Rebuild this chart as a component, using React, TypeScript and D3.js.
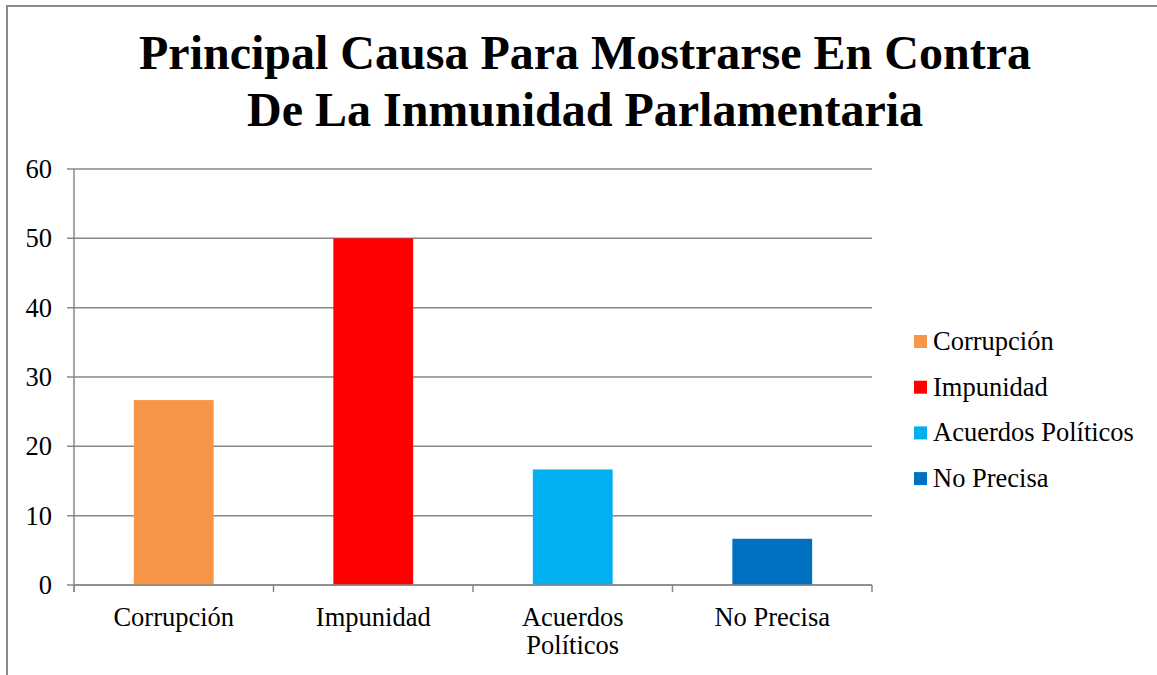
import React from "react";
import * as d3 from "d3";

const categories = ["Corrupción", "Impunidad", "Acuerdos Políticos", "No Precisa"];
const values = [26.67, 50, 16.67, 6.67];
const colors = ["#F79646", "#FF0000", "#00B0F0", "#0070C0"];
const yTicks = [0, 10, 20, 30, 40, 50, 60];
const titleLines = ["Principal Causa Para Mostrarse En Contra", "De La Inmunidad Parlamentaria"];
const categoryLabelLines = [["Corrupción"], ["Impunidad"], ["Acuerdos", "Políticos"], ["No Precisa"]];

const W = 1157;
const H = 675;
const plot = { left: 74, right: 872, top: 169, bottom: 585 };
const font = "'Liberation Serif', 'Times New Roman', serif";
const gridColor = "#888888";
const labelSize = 26.5;

export default function App() {
  const x = d3.scaleBand<string>().domain(categories).range([plot.left, plot.right]).paddingInner(0.6).paddingOuter(0.3);
  const xb = d3.scaleBand<string>().domain(categories).range([plot.left, plot.right]);
  const y = d3.scaleLinear().domain([0, 60]).range([plot.bottom, plot.top]);
  const boundaries = [plot.left, ...categories.map((c) => (xb(c) as number) + xb.bandwidth())];

  return (
    <svg width={W} height={H} style={{ position: "absolute", left: 0, top: 0, background: "#fff" }} fontFamily={font}>
      <rect x={7} y={6} width={W + 10} height={H + 10} fill="#fff" stroke="#898989" strokeWidth={2} />
      {titleLines.map((t, i) => (
        <text key={i} x={585} y={69 + i * 57} textAnchor="middle" fontSize={48} fontWeight="bold" fill="#000">
          {t}
        </text>
      ))}
      {yTicks.map((t) => (
        <g key={t}>
          <line x1={plot.left - 7} x2={plot.right} y1={y(t)} y2={y(t)} stroke={gridColor} strokeWidth={1.5} />
          <text x={52} y={y(t) + 9} textAnchor="end" fontSize={labelSize} fill="#000">
            {t}
          </text>
        </g>
      ))}
      <line x1={plot.left} x2={plot.left} y1={plot.top} y2={plot.bottom + 7} stroke={gridColor} strokeWidth={1.5} />
      {boundaries.map((b, i) => (
        <line key={i} x1={b} x2={b} y1={plot.bottom} y2={plot.bottom + 7} stroke={gridColor} strokeWidth={1.5} />
      ))}
      {categories.map((c, i) => (
        <rect key={c} x={x(c)} y={y(values[i])} width={x.bandwidth()} height={y(0) - y(values[i])} fill={colors[i]} />
      ))}
      <line x1={plot.left} x2={plot.right} y1={plot.bottom} y2={plot.bottom} stroke={gridColor} strokeWidth={1.5} />
      {categories.map((c, i) => (
        <text key={c} x={(xb(c) as number) + xb.bandwidth() / 2} y={626} textAnchor="middle" fontSize={labelSize} fill="#000">
          {categoryLabelLines[i].map((l, j) => (
            <tspan key={j} x={(xb(c) as number) + xb.bandwidth() / 2} dy={j === 0 ? 0 : 28}>
              {l}
            </tspan>
          ))}
        </text>
      ))}
      {categories.map((c, i) => (
        <g key={c} transform={`translate(914, ${335 + i * 45.7})`}>
          <rect x={0} y={0} width={13} height={13} fill={colors[i]} />
          <text x={19} y={15} fontSize={labelSize} fill="#000">
            {c}
          </text>
        </g>
      ))}
    </svg>
  );
}
